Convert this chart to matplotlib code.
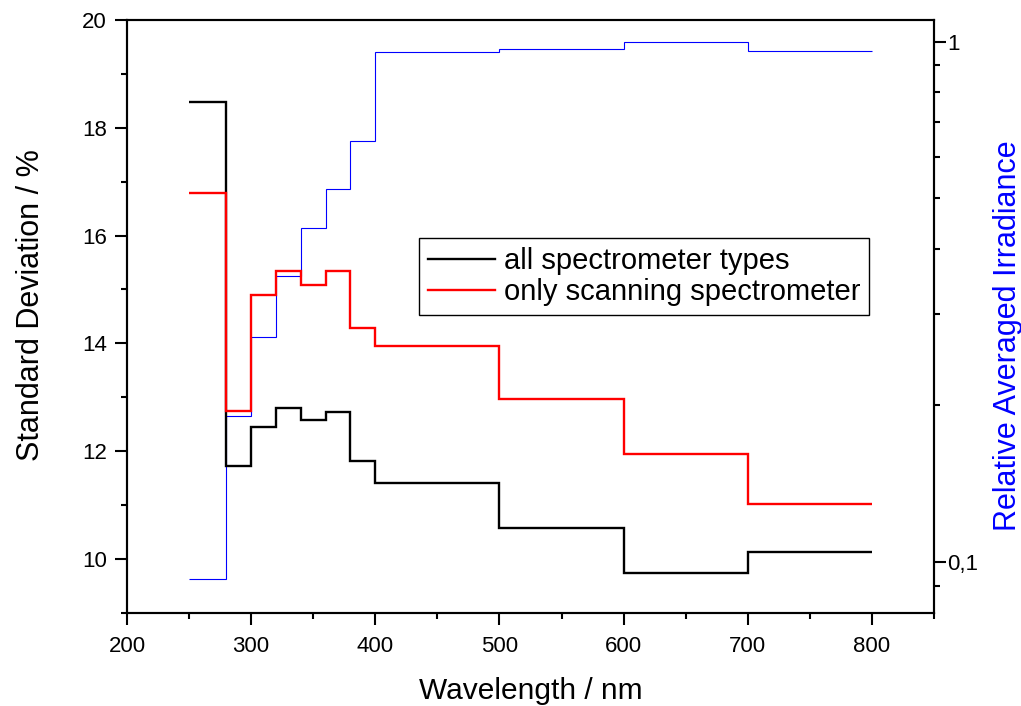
import numpy as np
import matplotlib
matplotlib.use('Agg')
import matplotlib.pyplot as plt
from matplotlib.ticker import MultipleLocator, FixedLocator, FuncFormatter, NullFormatter

plt.rcParams['font.family'] = ['Liberation Sans', 'DejaVu Sans']

# 波长分段边界
edges = [250, 280, 300, 320, 340, 360, 380, 400, 500, 600, 700, 800]
# 所有光谱仪类型的标准差
all_types = [18.48, 11.72, 12.44, 12.80, 12.57, 12.72, 11.82, 11.40, 10.57, 9.73, 10.12]
# 仅扫描光谱仪
scanning = [16.78, 12.75, 14.89, 15.35, 15.09, 15.35, 14.28, 13.95, 12.96, 11.94, 11.02]
# 相对平均辐照度
irradiance = [0.0926, 0.191, 0.271, 0.354, 0.438, 0.520, 0.644, 0.954, 0.969, 1.0, 0.96]

x_ticks = [200, 300, 400, 500, 600, 700, 800]

fig = plt.figure(figsize=(10.21, 7.06), dpi=100)
ax = fig.add_axes([0.1244, 0.1322, 0.7904, 0.8395])
ax2 = ax.twinx()

ax.stairs(all_types, edges, baseline=None, color='black', lw=1.7, label='all spectrometer types', zorder=3)
ax.stairs(scanning, edges, baseline=None, color='red', lw=1.7, label='only scanning spectrometer', zorder=3)
ax2.stairs(irradiance, edges, baseline=None, color='blue', lw=0.8)

ax.set_xlim(200, 850)
ax.set_ylim(9, 20)
ax2.set_yscale('log')
ax2.set_ylim(0.0799, 1.1)

ax.xaxis.set_major_locator(FixedLocator(x_ticks))
ax.xaxis.set_minor_locator(MultipleLocator(50))
ax.yaxis.set_major_locator(MultipleLocator(2))
ax.yaxis.set_minor_locator(MultipleLocator(1))

ax2.yaxis.set_major_locator(FixedLocator([0.1, 1]))
ax2.yaxis.set_major_formatter(FuncFormatter(lambda v, p: '1' if v == 1 else '0,1'))
ax2.yaxis.set_minor_locator(FixedLocator([0.09, 0.2, 0.3, 0.4, 0.5, 0.6, 0.7, 0.8, 0.9]))
ax2.yaxis.set_minor_formatter(NullFormatter())

for a in (ax, ax2):
    for s in a.spines.values():
        s.set_linewidth(1.5)
    a.tick_params(which='major', direction='out', length=8.5, width=1.5, labelsize=16)
    a.tick_params(which='minor', direction='out', length=4.5, width=1.5)
ax.tick_params(top=False, right=False)
ax.tick_params(axis='x', which='major', pad=8)
ax.tick_params(axis='y', which='major', pad=6)
ax2.tick_params(axis='y', which='major', pad=1)

ax.set_xlabel('Wavelength / nm', fontsize=21.5, labelpad=15)
ax.set_ylabel('Standard Deviation / %', fontsize=22)
ax.yaxis.set_label_coords(-0.100, 0.519)
ax2.set_ylabel('Relative Averaged Irradiance', fontsize=22, color='blue')
ax2.yaxis.set_label_coords(1.073, 0.467)

ax.set_zorder(ax2.get_zorder() + 1)
ax.patch.set_visible(False)

leg = ax.legend(loc='upper left', bbox_to_anchor=(0.3624, 0.632), fontsize=21,
                frameon=True, fancybox=False, edgecolor='black', framealpha=1,
                handlelength=2.3, handletextpad=0.3, borderpad=0.3, labelspacing=0.1,
                borderaxespad=0)
leg.get_frame().set_linewidth(1.0)
for h in leg.legend_handles:
    h.set_linewidth(1.7)

fig.savefig('out.png', dpi=100)
